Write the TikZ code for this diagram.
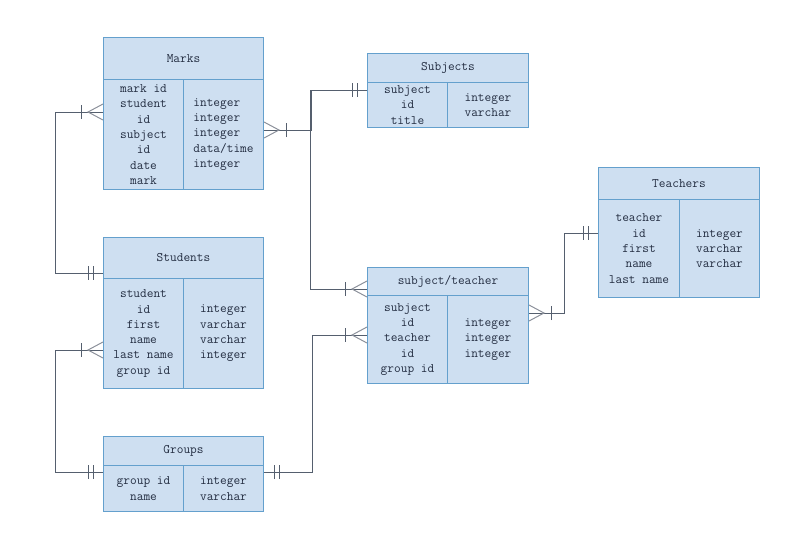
\documentclass[tikz,border=0pt]{standalone}
\usepackage{fontspec}
\definecolor{boxfill}{RGB}{206,223,241}
\definecolor{boxborder}{RGB}{100,160,205}
\definecolor{connc}{RGB}{85,95,110}
\definecolor{crowc}{RGB}{140,145,155}
\definecolor{txt}{RGB}{35,45,65}
\begin{document}
\begin{tikzpicture}[x=1pt,y=-1pt,
  cell/.style={draw=boxborder, fill=boxfill, line width=1pt, inner sep=0pt,
    anchor=north west, text=txt, font=\fontsize{13}{15.3}\selectfont\ttfamily},
  lcell/.style={cell, align=center},
  rcell/.style={cell, align=left},
  conn/.style={draw=connc, line width=1pt},
  crowline/.style={draw=crowc, line width=1pt},
  crow/.pic={\draw[crowline] (0,-8) -- (-15,0) -- (0,8);
             \draw[conn] (-22,-7) -- (-22,7);},
  onlyone/.pic={\draw[conn] (-15,-7) -- (-15,7) (-10,-7) -- (-10,7);}
]
\useasboundingbox (0,0) rectangle (800,552);

% Marks
\node[cell, minimum width=160pt, minimum height=42pt] (marksH) at (103,37) {Marks};
\node[lcell, minimum width=80pt, minimum height=110pt] (marksL) at (103,79) {mark id\\student\\id\\subject\\id\\date\\mark};
\node[rcell, minimum width=80pt, minimum height=110pt] (marksR) at (183,79) {integer\\integer\\integer\\data/time\\integer};

% Subjects
\node[cell, minimum width=161pt, minimum height=29pt] (subjH) at (367,53) {Subjects};
\node[lcell, minimum width=80pt, minimum height=45pt] (subjL) at (367,82) {subject\\id\\title};
\node[rcell, minimum width=81pt, minimum height=45pt] (subjR) at (447,82) {integer\\varchar};

% subject/teacher
\node[cell, minimum width=161pt, minimum height=28pt] (stH) at (367,267) {subject/teacher};
\node[lcell, minimum width=80pt, minimum height=88pt] (stL) at (367,295) {subject\\id\\teacher\\id\\group id};
\node[rcell, minimum width=81pt, minimum height=88pt] (stR) at (447,295) {integer\\integer\\integer};

% Teachers
\node[cell, minimum width=161pt, minimum height=32pt] (teachH) at (598,167) {Teachers};
\node[lcell, minimum width=81pt, minimum height=98pt] (teachL) at (598,199) {teacher\\id\\first\\name\\last name};
\node[rcell, minimum width=80pt, minimum height=98pt] (teachR) at (679,199) {integer\\varchar\\varchar};

% Students
\node[cell, minimum width=160pt, minimum height=41pt] (studH) at (103,237) {Students};
\node[lcell, minimum width=80pt, minimum height=110pt] (studL) at (103,278) {student\\id\\first\\name\\last name\\group id};
\node[rcell, minimum width=80pt, minimum height=110pt] (studR) at (183,278) {integer\\varchar\\varchar\\integer};

% Groups
\node[cell, minimum width=160pt, minimum height=29pt] (grpH) at (103,436) {Groups};
\node[lcell, minimum width=80pt, minimum height=46pt] (grpL) at (103,465) {group id\\name};
\node[rcell, minimum width=80pt, minimum height=46pt] (grpR) at (183,465) {integer\\varchar};

% connectors
\draw[conn] (marksL.west|-0,112) -- ++(-48,0) |- (studH.west|-0,273);
\draw[conn] (marksR.east|-0,130) -- ++(47,0) |- (subjL.west|-0,90);
\draw[conn] (subjL.west|-0,90) -- ++(-57,0) |- (stH.west|-0,289);
\draw[conn] (studL.west|-0,350) -- ++(-48,0) |- (grpL.west|-0,472);
\draw[conn] (grpR.east|-0,472) -- ++(48,0) |- (stL.west|-0,335);
\draw[conn] (stR.east|-0,313) -- ++(35,0) |- (teachL.west|-0,233);

% ends
\pic at (marksL.west|-0,112) {crow};
\pic at (studH.west|-0,273) {onlyone};
\pic[rotate=180] at (marksR.east|-0,130) {crow};
\pic at (subjL.west|-0,90) {onlyone};
\pic at (stH.west|-0,289) {crow};
\pic at (studL.west|-0,350) {crow};
\pic at (grpL.west|-0,472) {onlyone};
\pic[rotate=180] at (grpR.east|-0,472) {onlyone};
\pic at (stL.west|-0,335) {crow};
\pic[rotate=180] at (stR.east|-0,313) {crow};
\pic at (teachL.west|-0,233) {onlyone};
\end{tikzpicture}
\end{document}
